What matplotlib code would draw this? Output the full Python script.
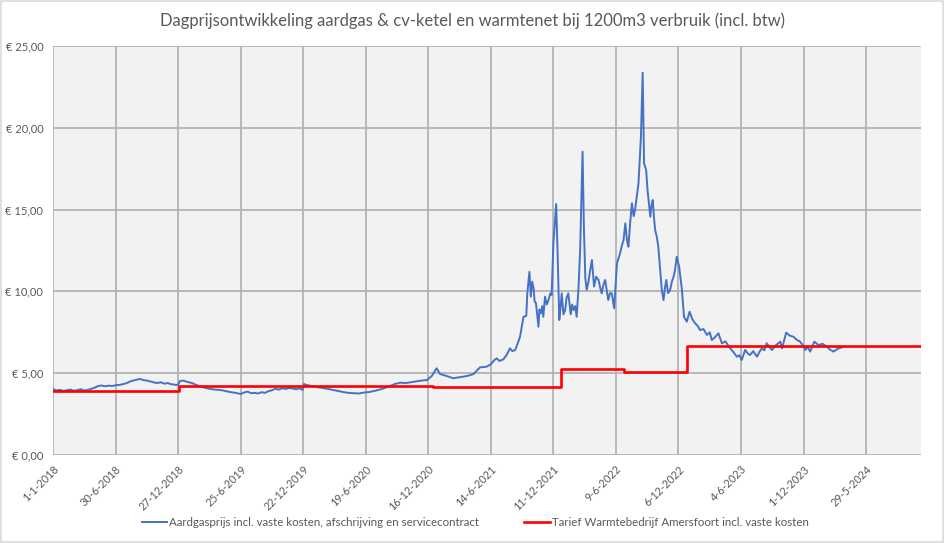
"""
Dagprijs aardgas + cv-ketel vs. warmtenet tarief (1200 m3, incl. btw).
Waarden afgelezen uit de grafiek.
"""
import numpy as np
import pandas as pd
import matplotlib
matplotlib.use("Agg")
import matplotlib.pyplot as plt
import matplotlib.dates as mdates
from matplotlib.patches import Rectangle

plt.rcParams["font.family"] = ["Lato", "DejaVu Sans"]

START = pd.Timestamp("2018-01-01")
END = pd.Timestamp("2024-11-03")

# ── aardgas (dagen sinds 1-1-2018, euro/dag) ──────────────────────
gas_day = [
    0, 10, 20, 30, 40, 50, 60, 70, 80, 90, 100, 110, 120, 130, 140, 150, 160, 170,
    180, 195, 210, 225, 240, 250, 260, 270, 280, 290, 300, 310, 320, 330, 340, 350,
    360, 365, 375, 385, 400, 410, 420, 435, 450, 465, 480, 495, 510, 525, 540, 550,
    560, 570, 580, 590, 600, 610, 620, 630, 640, 650, 660, 670, 680, 690, 700, 710,
    718, 722, 730, 745, 760, 775, 790, 805, 820, 835, 850, 865, 880, 895, 910, 925,
    940, 955, 970, 985, 1000, 1015, 1030, 1045, 1060, 1076, 1090, 1104, 1114, 1133,
    1152, 1165, 1181, 1195, 1210, 1229, 1248, 1260, 1270, 1277, 1285, 1296, 1305,
    1315, 1322, 1330, 1337, 1344, 1354, 1362, 1365, 1371, 1375, 1379, 1383, 1386, 1390, 1397,
    1400, 1404, 1408, 1411, 1416, 1421, 1426, 1431, 1435, 1440, 1448, 1452, 1457, 1461, 1464, 1469, 1474, 1478, 1483,
    1490, 1494, 1498, 1503, 1507, 1512, 1517, 1524, 1528, 1532, 1536, 1541, 1546, 1551, 1557, 1563, 1570, 1575, 1579,
    1584, 1589, 1594, 1598, 1603, 1608, 1615, 1623, 1632, 1637, 1642, 1647, 1652, 1656, 1661, 1666, 1671, 1675, 1680, 1685, 1692,
    1697, 1701, 1707, 1711, 1714, 1719, 1722, 1726, 1730, 1733, 1738, 1742, 1747, 1752, 1757, 1761, 1765, 1770, 1776, 1781, 1786,
    1790, 1795, 1802, 1810, 1816, 1824, 1832, 1840, 1848, 1855, 1862, 1872, 1882, 1890, 1896, 1905, 1915, 1925,
    1935, 1949, 1958, 1968, 1975, 1982, 1992, 2000, 2006, 2015, 2026, 2033, 2040, 2047, 2054, 2062, 2069, 2080, 2093, 2098,
    2110, 2120, 2131, 2140, 2150, 2158, 2165, 2172, 2179, 2191, 2203, 2215, 2227, 2236, 2246, 2255, 2261, 2270,
]
gas_price = [
    4.03, 3.95, 3.98, 3.92, 3.96, 4.00, 3.93, 3.97, 4.02, 3.94, 3.98, 4.05, 4.12, 4.22, 4.25, 4.20, 4.24, 4.22,
    4.26, 4.30, 4.38, 4.52, 4.60, 4.65, 4.58, 4.55, 4.50, 4.44, 4.40, 4.45, 4.36, 4.40, 4.33, 4.30,
    4.28, 4.52, 4.55, 4.48, 4.40, 4.30, 4.22, 4.12, 4.05, 4.00, 3.98, 3.92, 3.85, 3.80, 3.73, 3.82,
    3.88, 3.78, 3.80, 3.76, 3.84, 3.80, 3.90, 3.96, 4.05, 4.00, 4.08, 4.04, 4.10, 4.06, 4.02, 4.08,
    3.97, 4.34, 4.28, 4.22, 4.15, 4.10, 4.05, 3.98, 3.92, 3.85, 3.80, 3.78, 3.76, 3.82, 3.85, 3.92,
    4.00, 4.10, 4.22, 4.35, 4.42, 4.40, 4.45, 4.50, 4.55, 4.58, 4.83, 5.30, 4.95, 4.83,
    4.69, 4.74, 4.79, 4.85, 4.95, 5.36, 5.40, 5.55, 5.80, 5.91, 5.75, 5.85, 6.10,
    6.52, 6.35, 6.42, 6.80, 7.23, 8.45, 8.50, 9.88, 11.20, 9.68, 10.60, 10.19, 9.40, 9.27, 7.84,
    8.90, 8.66, 9.10, 8.45, 9.68, 9.20, 9.48, 9.88, 9.78, 12.94, 15.34, 12.50, 8.25, 9.10, 9.88, 8.60, 8.86, 9.60, 9.88,
    8.60, 9.20, 8.86, 9.10, 8.45, 10.09, 12.50, 18.54, 13.75, 10.80, 10.09, 10.60, 11.31, 11.92, 10.29, 10.90, 10.70, 10.20, 9.88,
    10.40, 10.70, 10.00, 9.47, 9.90, 9.88, 8.97, 11.72, 12.33, 12.80, 13.14, 14.16, 13.10, 12.73, 14.20, 15.39, 14.60, 14.98, 15.80, 16.61, 19.46,
    23.37, 17.83, 17.42, 16.20, 15.59, 14.57, 15.20, 15.59, 14.40, 13.75, 13.30, 12.73, 11.40, 10.09, 9.47, 10.20, 10.70, 9.90, 10.09, 10.60, 10.90,
    11.30, 12.12, 11.50, 10.09, 8.45, 8.15, 8.76, 8.30, 8.05, 7.90, 7.64, 7.70, 7.34, 7.50, 7.03, 7.20, 7.44, 6.83,
    6.95, 6.52, 6.30, 6.01, 6.10, 5.81, 6.42, 6.20, 6.11, 6.35, 6.01, 6.30, 6.52, 6.40, 6.83, 6.60, 6.42, 6.70, 6.93, 6.52,
    7.48, 7.30, 7.23, 7.05, 6.93, 6.70, 6.42, 6.60, 6.32, 6.93, 6.72, 6.80, 6.62, 6.45, 6.32, 6.45, 6.52, 6.58,
]

# ── warmtenet tarief (stappen) ───────────────────────────────────
heat_date = ["2018-01-01", "2018-12-30", "2020-12-30", "2022-01-01", "2022-07-01", "2023-01-01", "2024-11-03"]
heat_price = [3.93, 4.21, 4.16, 5.24, 5.05, 6.68, 6.68]

tick_dates = pd.date_range("2018-01-01", periods=14, freq="180D")
y_ticks = [0, 5, 10, 15, 20, 25]

GREY_TXT = "#595959"
GRID = "#b3b3b3"

gas_x = START + pd.to_timedelta(gas_day, unit="D")
heat_x = pd.to_datetime(heat_date)

fig = plt.figure(figsize=(9.45, 5.43), dpi=100)
ax = fig.add_axes([0.0561, 0.162, 0.9185, 0.7533])
ax.set_facecolor("#f2f2f2")

ax.plot(gas_x, gas_price, color="#4472c4", lw=1.4,
        label="Aardgasprijs incl. vaste kosten, afschrijving en servicecontract", zorder=3)
ax.plot(heat_x, heat_price, color="#ff0000", lw=1.9, drawstyle="steps-post",
        label="Tarief Warmtebedrijf Amersfoort incl. vaste kosten", zorder=4)

ax.set_xlim(START, END)
ax.set_ylim(0, 25)
ax.set_xticks(tick_dates)
ax.set_xticklabels([f"{d.day}-{d.month}-{d.year}" for d in tick_dates],
                   rotation=45, ha="right", rotation_mode="anchor", fontsize=7.8, color=GREY_TXT)
ax.set_yticks(y_ticks)
ax.set_yticklabels([f"€ {v:.2f}".replace(".", ",") for v in y_ticks], fontsize=8, color=GREY_TXT)
ax.tick_params(length=0, pad=7)
ax.tick_params(axis="x", pad=6)
ax.grid(True, color=GRID, lw=1.3)
ax.set_axisbelow(True)
for s in ax.spines.values():
    s.set_visible(False)

fig.suptitle("Dagprijsontwikkeling aardgas & cv-ketel en warmtenet bij 1200m3 verbruik (incl. btw)",
             y=0.978, fontsize=12, color=GREY_TXT)

fig.legend(loc="center", bbox_to_anchor=(0.503, 0.038), ncol=2, frameon=False,
           fontsize=8.3, handlelength=2.2, handletextpad=0.2, columnspacing=3.9,
           labelcolor=GREY_TXT)

fig.patches.append(Rectangle((0.001, 0.002), 0.997, 0.996, transform=fig.transFigure,
                             fill=False, edgecolor="#d9d9d9", lw=1.2))

fig.savefig("out.png", dpi=100)
